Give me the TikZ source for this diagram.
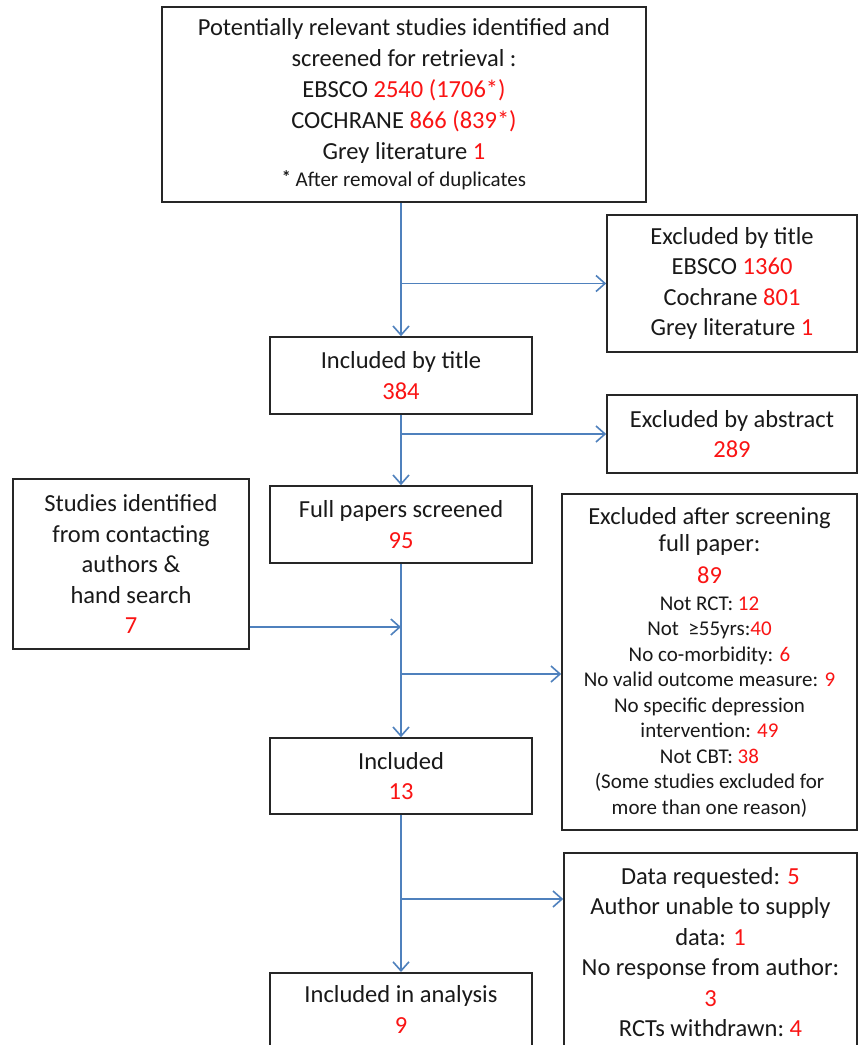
\documentclass[tikz,border=0pt]{standalone}
\usepackage{fontspec}
\setmainfont{Carlito}
\usetikzlibrary{arrows.meta}
\definecolor{nred}{RGB}{250,20,20}
\definecolor{ablue}{RGB}{79,129,189}
\definecolor{txt}{RGB}{25,25,25}
\newcommand{\rn}[1]{\textcolor{nred}{#1}}
\newcommand{\bigf}{\fontsize{24.5}{30.5}\selectfont}
\newcommand{\smallf}{\fontsize{21}{25.5}\selectfont}
\begin{document}
\begin{tikzpicture}[x=1pt,y=-1pt,
  box/.style={draw=black!85, line width=1.6pt, align=center, inner sep=0pt, text=txt, font=\bigf},
  plain/.style={align=center, inner sep=0pt, text=txt, font=\bigf},
  arr/.style={draw=ablue, line width=1.8pt, -{Straight Barb[length=9pt,width=16pt,line width=1.6pt]}}]
\useasboundingbox[fill=white] (0,0) rectangle (858,1045);

\node[box, minimum width=484, minimum height=195, font=\fontsize{24.5}{31}\selectfont] (top) at (404,104.5)
  {Potentially relevant studies identified and\\ screened for retrieval :\\ EBSCO \rn{2540 (1706*)}\\ COCHRANE \rn{866 (839*)}\\ Grey literature \rn{1}\\[-4pt]
   {\fontsize{21}{25}\selectfont\raisebox{3pt}{\fontsize{18}{18}\selectfont\bfseries*} After removal of duplicates}};

\node[box, minimum width=250, minimum height=137] (exttl) at (732,283.5)
  {Excluded by title\\ EBSCO \rn{1360}\\ Cochrane \rn{801}\\ Grey literature \rn{1}};

\node[box, minimum width=262, minimum height=77] (incl1) at (401,375.5)
  {Included by title\\ \rn{384}};

\node[box, minimum width=250, minimum height=78] (exabs) at (732,434)
  {Excluded by abstract\\ \rn{289}};

\node[box, minimum width=236, minimum height=170] (studies) at (131,564)
  {Studies identified\\ from contacting\\ authors \&\\ hand search\\ \rn{7}};

\node[box, minimum width=262, minimum height=77] (full) at (401,524.5)
  {Full papers screened\\ \rn{95}};

\node[box, minimum width=295, minimum height=336, font=\smallf] (exscr) at (709.5,662)
  {{\bigf Excluded after screening}\\[2pt]
   {\bigf full paper:}\\[6.5pt]
   {\bigf\rn{89}}\\[1pt]
   Not RCT: \rn{12}\\
   Not\ \ ≥55yrs:\rn{40}\\
   No co-morbidity: \rn{6}\\
   No valid outcome measure: \rn{9}\\
   No specific depression\\
   intervention: \rn{49}\\
   Not CBT: \rn{38}\\
   (Some studies excluded for\\
   more than one reason)};

\node[box, minimum width=262, minimum height=76] (included) at (401,776)
  {Included\\ \rn{13}};

\node[box, minimum width=262, minimum height=150, anchor=north] (analysis) at (401,972) {};
\node[plain, anchor=north] (analysistext) at (401,985.5)
  {Included in analysis\\ \rn{9}};

\node[box, minimum width=293, minimum height=250, anchor=north] (data) at (710.5,852) {};
\node[plain, anchor=north] (datatext) at (710.5,867)
  {Data requested: \rn{5}\\ Author unable to supply\\ data: \rn{1}\\ No response from author:\\ \rn{3}\\ RCTs withdrawn:\ \rn{4}};

\coordinate (j1) at (401,627);
\coordinate (j2) at (401,674);
\coordinate (j3) at (401,899);

\draw[arr] (top.south -| incl1.north) -- (incl1.north);
\draw[arr] (exttl.west -| incl1.north) -- (exttl.west);
\draw[arr] (incl1.south) -- (full.north);
\draw[arr] (exabs.west -| incl1.south) -- (exabs.west);
\draw[arr] (studies.east |- j1) -- (j1);
\draw[arr] (full.south) -- (included.north);
\draw[arr] (j2) -- (j2 -| exscr.west);
\draw[arr] (included.south) -- (analysis.north);
\draw[arr] (j3) -- (j3 -| data.west);
\end{tikzpicture}
\end{document}
